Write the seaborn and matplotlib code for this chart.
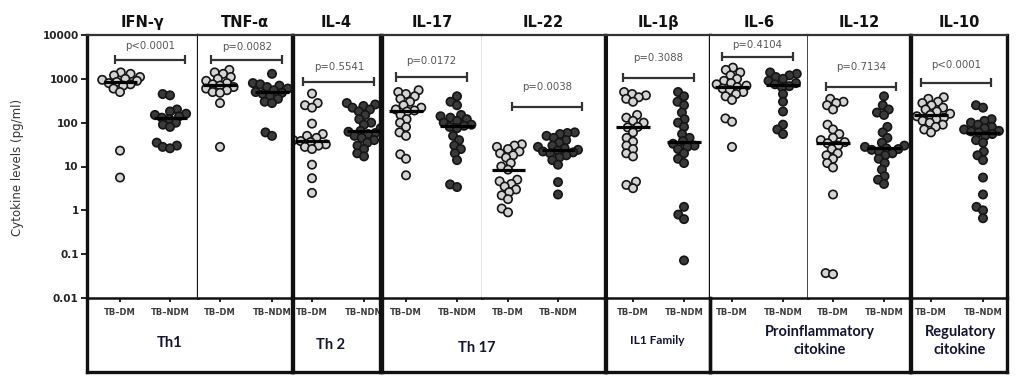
import numpy as np
import pandas as pd
import matplotlib
matplotlib.use("Agg")
import matplotlib.pyplot as plt
from matplotlib.collections import PathCollection
from matplotlib.ticker import FixedLocator, NullLocator
import seaborn as sns

# groups and panels
groups = ["TB–DM", "TB–NDM"]
cytokines = ["IFN-γ", "TNF-α", "IL-4", "IL-17", "IL-22", "IL-1β", "IL-6", "IL-12", "IL-10"]

# cytokine levels (pg/ml)
ifng_dm = [1400, 1300, 1200, 1100, 1000, 950, 900, 850, 800, 750, 700, 600, 500, 23, 5.6]
ifng_ndm = [450, 420, 200, 180, 160, 150, 140, 130, 120, 100, 90, 80, 35, 30, 28, 26]
tnfa_dm = [1600, 1400, 1300, 1100, 1000, 900, 800, 750, 700, 650, 600, 550, 500, 480, 280, 28]
tnfa_ndm = [1300, 800, 750, 700, 650, 600, 550, 500, 480, 450, 400, 350, 300, 280, 60, 50]
il4_dm = [460, 280, 250, 220, 95, 55, 50, 45, 40, 38, 36, 32, 30, 28, 25, 11, 5.4, 2.5]
il4_ndm = [280, 260, 240, 220, 200, 180, 150, 120, 100, 90, 75, 65, 62, 58, 55, 50, 45, 40, 35, 30, 25, 20, 17]
il17_dm = [550, 500, 450, 400, 350, 300, 250, 220, 200, 190, 180, 150, 120, 100, 80, 60, 50, 19, 15, 6.3]
il17_ndm = [400, 300, 250, 150, 140, 130, 120, 110, 100, 90, 85, 80, 75, 50, 40, 30, 25, 20, 14, 3.9, 3.4]
il22_dm = [32, 30, 28, 25, 22, 20, 18, 16, 12, 10, 8.5, 5, 4.6, 4, 3.5, 3, 2.6, 2.2, 1.8, 1.1, 0.9]
il22_ndm = [60, 58, 55, 50, 45, 40, 35, 30, 28, 26, 24, 23, 22, 21, 20, 18, 16, 14, 11, 4.4, 2.3]
il1b_dm = [500, 450, 420, 380, 350, 300, 150, 130, 110, 100, 80, 78, 60, 45, 37, 30, 25, 20, 17, 4.5, 3.8, 3.2]
il1b_ndm = [500, 400, 300, 250, 170, 120, 100, 80, 55, 45, 38, 33, 30, 28, 25, 20, 15, 12, 1.2, 0.8, 0.63, 0.072]
il6_dm = [1800, 1600, 1400, 1200, 1000, 900, 800, 750, 700, 650, 600, 550, 500, 450, 400, 330, 125, 105, 28]
il6_ndm = [1400, 1300, 1200, 1100, 1000, 900, 800, 750, 680, 650, 450, 300, 180, 90, 70, 55]
il12_dm = [350, 300, 280, 250, 200, 90, 70, 55, 45, 40, 36, 34, 30, 25, 20, 18, 15, 12, 9.5, 2.3, 0.037, 0.035]
il12_ndm = [400, 250, 200, 170, 150, 80, 60, 45, 35, 30, 28, 26, 25, 24, 22, 20, 18, 15, 12, 8.5, 6, 5, 4]
il10_dm = [380, 350, 300, 280, 250, 220, 200, 180, 160, 150, 140, 130, 120, 110, 100, 90, 80, 70, 60]
il10_ndm = [250, 220, 120, 110, 100, 90, 80, 75, 70, 65, 63, 60, 55, 50, 40, 35, 22, 18, 14, 5.6, 2.3, 1.2, 1.0, 0.66]

dm_values = [ifng_dm, tnfa_dm, il4_dm, il17_dm, il22_dm, il1b_dm, il6_dm, il12_dm, il10_dm]
ndm_values = [ifng_ndm, tnfa_ndm, il4_ndm, il17_ndm, il22_ndm, il1b_ndm, il6_ndm, il12_ndm, il10_ndm]

p_labels = ["p<0.0001", "p=0.0082", "p=0.5541", "p=0.0172", "p=0.0038",
            "p=0.3088", "p=0.4104", "p=0.7134", "p<0.0001"]

group_labels = ["Th1", "Th 2", "Th 17", "IL1 Family", "Proinflammatory\ncitokine", "Regulatory\ncitokine"]

# ---- layout (pixels of the 1017x379 canvas) ----
W, H = 1017, 379
TOP, BOT, BOX_BOT = 35, 298, 372
# left, right, tick0, tick1, left spine lw, right spine lw
panels = [(87, 198, 120, 170, 2.4, 1.6),
          (198, 292, 220, 272, 0, 2.4),
          (293, 380, 312, 364, 2.4, 2.4),
          (382, 482, 406, 457, 2.4, 0.9),
          (482, 605, 508, 558, 0, 2.4),
          (606, 710, 633, 684, 2.2, 2.4),
          (710, 808, 732, 783, 0, 1.1),
          (808, 910, 833, 884, 0, 2.4),
          (911, 1007, 931, 983, 2.4, 2.4)]
bracket_y = [2700, 2700, 860, 1100, 230, 1060, 3200, 660, 810]
ptext_y = [5600, 5300, 1870, 2570, 660, 3000, 5900, 1870, 2080]
bracket_x = [(-0.1, 1.3), (-0.17, 1.2), (-0.17, 1.2), (-0.2, 1.2), (0.08, 1.48),
             (-0.2, 1.2), (-0.2, 1.2), (-0.14, 1.24), (-0.2, 1.15)]
# group boxes: left, right, text x, text y, size
boxes = [(87, 292, 170, 343, 10.5), (293, 380, 330, 345, 10.5), (382, 605, 477, 348, 10.5),
         (606, 710, 657, 341, 8.5), (710, 910, 820, 341, 10.5), (911, 1007, 960, 341, 10.5)]

SWARM_SIZE = 3.9   # marker size used to lay out the swarm (points overlap like the original)
MARKER_SIZE = 6.0  # marker size actually drawn


def px_rect(x0, x1, y0, y1):
    return [x0 / W, 1 - y1 / H, (x1 - x0) / W, (y1 - y0) / H]


sns.set_theme(style="ticks")
plt.rcParams['font.family'] = ['DejaVu Sans']

fig = plt.figure(figsize=(W / 100, H / 100), dpi=100)
palette = {groups[0]: "#d4d4d4", groups[1]: "#3a3a3a"}
swarms = []

for i, name in enumerate(cytokines):
    left, right, t0, t1, lw_l, lw_r = panels[i]
    ax = fig.add_axes(px_rect(left, right, TOP, BOT))
    df = pd.DataFrame({
        "group": [groups[0]] * len(dm_values[i]) + [groups[1]] * len(ndm_values[i]),
        "value": dm_values[i] + ndm_values[i],
    })
    sns.swarmplot(data=df, x="group", y="value", hue="group", order=groups, hue_order=groups,
                  palette=palette, edgecolor="#151515", linewidth=1.2, size=SWARM_SIZE,
                  log_scale=True, legend=False, ax=ax, zorder=2)
    swarms += [c for c in ax.collections if isinstance(c, PathCollection)]
    sns.boxplot(data=df, x="group", y="value", order=groups, log_scale=True,
                showbox=False, showcaps=False, showfliers=False,
                whiskerprops={"visible": False},
                medianprops={"color": "black", "linewidth": 2.3, "zorder": 4},
                width=0.66, ax=ax)

    unit = t1 - t0
    ax.set_xlim((left - t0) / unit, (right - t0) / unit)
    ax.set_ylim(0.01, 10000)
    ax.yaxis.set_major_locator(FixedLocator([0.01, 0.1, 1, 10, 100, 1000, 10000]))
    ax.yaxis.set_minor_locator(NullLocator())
    ax.set_xlabel("")
    ax.set_ylabel("")

    # p-value bracket
    bx0, bx1 = bracket_x[i]
    by = bracket_y[i]
    ax.plot([bx0, bx1], [by, by], color="#333333", lw=1.6, solid_capstyle="butt")
    ax.vlines([bx0, bx1], by / 1.27, by * 1.27, color="#333333", lw=1.6)
    ax.text((bx0 + bx1) / 2, ptext_y[i], p_labels[i], ha="center", va="center",
            fontsize=7.3, color="#555555")

    ax.set_title(name, fontsize=10.5, fontweight="bold", pad=6, color="#111111")

    # spines
    ax.spines["top"].set_linewidth(1.6)
    ax.spines["top"].set_color("#333333")
    ax.spines["bottom"].set_linewidth(1.8)
    ax.spines["bottom"].set_color("#111111")
    for side, lw in (("left", lw_l), ("right", lw_r)):
        if lw == 0:
            ax.spines[side].set_visible(False)
        else:
            ax.spines[side].set_visible(True)
            ax.spines[side].set_linewidth(lw)
            ax.spines[side].set_color("#111111")

    ax.tick_params(axis="x", length=3, width=1.4, pad=4, labelsize=6, labelcolor="#3a3a3a",
                   color="#222222")
    for lab in ax.get_xticklabels():
        lab.set_fontweight("bold")

    if i == 0:
        ax.set_yticklabels(["0.01", "0.1", "1", "10", "100", "1000", "10000"])
        ax.tick_params(axis="y", length=4, width=1.4, pad=2, labelsize=7.5,
                       labelcolor="#222222", color="#222222")
        for lab in ax.get_yticklabels():
            lab.set_fontweight("bold")
    else:
        ax.tick_params(axis="y", which="both", left=False, labelleft=False)

# cell-type group boxes under the panels
for k, (left, right, tx, ty, fs) in enumerate(boxes):
    bax = fig.add_axes(px_rect(left, right, BOT, BOX_BOT))
    bax.patch.set_alpha(0)
    bax.set_xticks([])
    bax.set_yticks([])
    bax.spines["top"].set_visible(False)
    for side in ("left", "right", "bottom"):
        bax.spines[side].set_linewidth(2.4)
        bax.spines[side].set_color("#111111")
    fig.text(tx / W, 1 - ty / H, group_labels[k], ha="center", va="center", fontsize=fs,
             family=["Lato", "DejaVu Sans"], fontweight="bold", color="#141432",
             linespacing=1.3)

fig.text(18 / W, 1 - 167 / H, "Cytokine levels (pg/ml)", rotation=90, ha="center",
         va="center", fontsize=8.5, color="#333333")

# lay the swarms out once with the compact size, then freeze them and enlarge the markers
fig.canvas.draw()
for coll in swarms:
    if "draw" in coll.__dict__:
        del coll.draw
    coll.set_sizes([MARKER_SIZE ** 2])

fig.savefig("out.png", dpi=100)
plt.close(fig)
